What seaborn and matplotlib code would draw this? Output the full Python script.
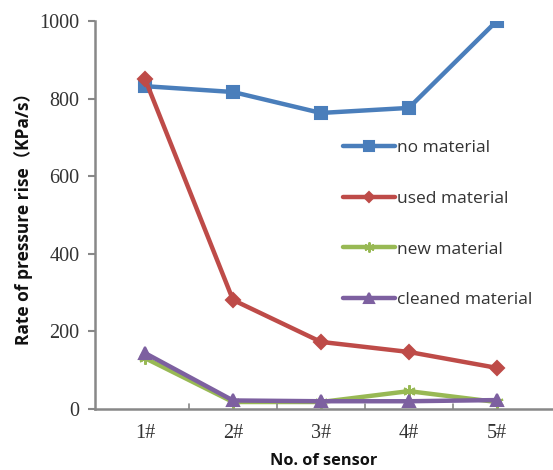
import matplotlib
matplotlib.use("Agg")
import matplotlib.pyplot as plt
import seaborn as sns
import pandas as pd

sensors = ["1#", "2#", "3#", "4#", "5#"]
no_material = [832, 817, 763, 776, 1000]
used_material = [850, 281, 173, 147, 106]
new_material = [131, 18, 18, 46, 18]
cleaned_material = [144, 22, 20, 20, 23]

series_names = ["no material", "used material", "new material", "cleaned material"]
series_vals = [no_material, used_material, new_material, cleaned_material]

rows = []
for name, vals in zip(series_names, series_vals):
    for s, v in zip(sensors, vals):
        rows.append({"sensor": s, "value": v, "series": name})
df = pd.DataFrame(rows)

sns.set_theme(style="white")
plt.rcParams['font.family'] = ['Liberation Serif', 'DejaVu Sans']

colors = {"no material": "#4A7EBB", "used material": "#BE4B48",
          "new material": "#98B954", "cleaned material": "#7D60A0"}
markers = {"no material": "s", "used material": "D",
           "new material": (6, 2, 0), "cleaned material": "^"}
msizes = {"no material": 8.5, "used material": 7, "new material": 9, "cleaned material": 9}

fig = plt.figure(figsize=(5.53, 4.70), dpi=100)
ax = fig.add_axes([95/553, 1 - 409/470, 1 - 95/553, (409 - 21)/470])

for name in series_names:
    sub = df[df.series == name]
    sns.lineplot(data=sub, x="sensor", y="value", ax=ax, color=colors[name],
                 marker=markers[name], markersize=msizes[name], linewidth=3.2,
                 markeredgecolor=colors[name], markeredgewidth=1.5, label=name, sort=False)

ax.set_xlim(-0.57, 4.64)
ax.set_ylim(0, 1000)
ax.set_yticks([0, 200, 400, 600, 800, 1000])
ax.set_xticks(range(5))
ax.set_xticklabels(sensors)
ax.tick_params(axis='both', labelsize=14.5, colors='#333333')
ax.tick_params(axis='y', direction='out', length=5, width=1.5, color='#888888', left=True, pad=6)
ax.tick_params(axis='x', length=0, pad=11)
for x in [0.5, 1.5, 2.5, 3.5]:
    ax.plot([x, x], [0, 14], color='#888888', lw=1.2, clip_on=False)

for sp in ["top", "right"]:
    ax.spines[sp].set_visible(False)
for sp in ["left", "bottom"]:
    ax.spines[sp].set_color('#888888')
    ax.spines[sp].set_linewidth(1.8)

ax.set_xlabel("No. of sensor", fontsize=11.8, fontweight='bold',
              family=['Open Sans', 'DejaVu Sans'], labelpad=7, color='#111111')
ax.set_ylabel("Rate of pressure rise（KPa/s）", fontsize=12.5, fontweight='bold',
              family=['Open Sans', 'Noto Sans CJK SC'], labelpad=5, color='#111111')

leg = ax.legend(loc='upper left', bbox_to_anchor=(327/553, 1 - 124/470),
                bbox_transform=fig.transFigure, frameon=False,
                handlelength=3.0, handletextpad=0.15, labelspacing=2.0, markerscale=0.8,
                prop={'family': ['Open Sans', 'DejaVu Sans'], 'size': 12.5})
for t in leg.get_texts():
    t.set_color('#333333')

fig.savefig("out.png", dpi=100)
